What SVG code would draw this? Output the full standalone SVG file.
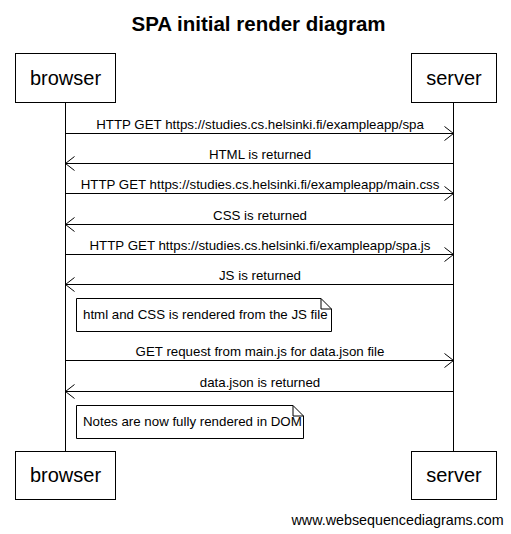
<svg xmlns="http://www.w3.org/2000/svg" width="511" height="534" viewBox="0 0 511 534">
<style>
text{font-family:"Liberation Sans",Arial,sans-serif;fill:#000}
.title{font-size:20.5px;font-weight:bold;text-anchor:middle}
.part{font-size:20px;text-anchor:middle}
.lbl{font-size:13.3px;text-anchor:middle}
.note{font-size:13.3px}
.foot{font-size:14.3px}
.box{fill:#fff;stroke:#000;stroke-width:1}
.life{stroke:#000;stroke-width:1;fill:none}
.msg{stroke:#000;stroke-width:1;fill:none}
</style>
<defs>
<marker id="ah" markerWidth="12" markerHeight="16" refX="10" refY="8" orient="auto" markerUnits="userSpaceOnUse">
<path d="M1,1 L10,8 L1,15" fill="none" stroke="#000" stroke-width="1"/>
</marker>
</defs>
<rect width="511" height="534" fill="#fff"/>
<text class="title" x="258.5" y="31">SPA initial render diagram</text>
<g id="lifelines">
<line class="life" x1="65.5" y1="102.5" x2="65.5" y2="451"/>
<line class="life" x1="453.5" y1="102.5" x2="453.5" y2="451"/>
</g>
<g id="browser">
<rect class="box" x="15.5" y="53.5" width="100" height="49"/>
<text class="part" x="65.5" y="84.5">browser</text>
</g>
<g id="server">
<rect class="box" x="411.5" y="53.5" width="85" height="49"/>
<text class="part" x="454" y="84.5">server</text>
</g>
<g id="browser-bottom">
<rect class="box" x="15.5" y="451.5" width="100" height="48"/>
<text class="part" x="65.5" y="482">browser</text>
</g>
<g id="server-bottom">
<rect class="box" x="411.5" y="451.5" width="85" height="48"/>
<text class="part" x="454" y="482">server</text>
</g>
<g id="connectors">
<line class="msg" x1="65.5" y1="133.5" x2="453.5" y2="133.5" marker-end="url(#ah)"/>
<line class="msg" x1="453.5" y1="163.5" x2="65.5" y2="163.5" marker-end="url(#ah)"/>
<line class="msg" x1="65.5" y1="193.5" x2="453.5" y2="193.5" marker-end="url(#ah)"/>
<line class="msg" x1="453.5" y1="224.5" x2="65.5" y2="224.5" marker-end="url(#ah)"/>
<line class="msg" x1="65.5" y1="254.5" x2="453.5" y2="254.5" marker-end="url(#ah)"/>
<line class="msg" x1="453.5" y1="284.5" x2="65.5" y2="284.5" marker-end="url(#ah)"/>
<line class="msg" x1="65.5" y1="360.5" x2="453.5" y2="360.5" marker-end="url(#ah)"/>
<line class="msg" x1="453.5" y1="391.5" x2="65.5" y2="391.5" marker-end="url(#ah)"/>
<text class="lbl" x="260" y="129">HTTP GET https://studies.cs.helsinki.fi/exampleapp/spa</text>
<text class="lbl" x="260" y="159">HTML is returned</text>
<text class="lbl" x="260" y="189">HTTP GET https://studies.cs.helsinki.fi/exampleapp/main.css</text>
<text class="lbl" x="260" y="220">CSS is returned</text>
<text class="lbl" x="260" y="250">HTTP GET https://studies.cs.helsinki.fi/exampleapp/spa.js</text>
<text class="lbl" x="260" y="280">JS is returned</text>
<text class="lbl" x="260" y="356">GET request from main.js for data.json file</text>
<text class="lbl" x="260" y="387">data.json is returned</text>
</g>
<g id="note1">
<path class="box" d="M76.5,298.5 H321 L331.5,309 V331.5 H76.5 Z"/>
<path class="life" d="M321,298.5 V309 H331.5"/>
<text class="note" x="83" y="319">html and CSS is rendered from the JS file</text>
</g>
<g id="note2">
<path class="box" d="M76.5,405.5 H293 L303.5,416 V438.5 H76.5 Z"/>
<path class="life" d="M293,405.5 V416 H303.5"/>
<text class="note" x="83" y="426">Notes are now fully rendered in DOM</text>
</g>
<text class="foot" x="291.5" y="525">www.websequencediagrams.com</text>
</svg>
